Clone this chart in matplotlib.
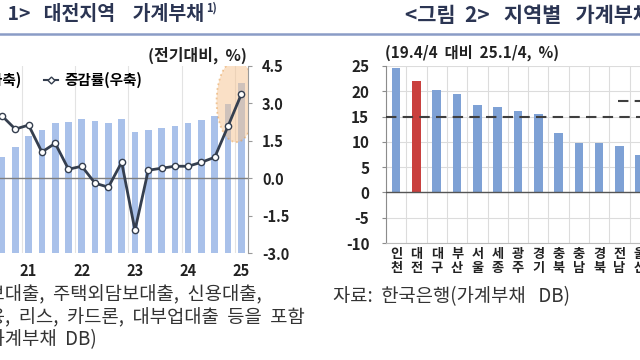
import numpy as np
import matplotlib.pyplot as plt
from matplotlib.patches import Ellipse, Patch
from matplotlib.lines import Line2D

plt.rcParams['font.family'] = ['Noto Sans CJK KR', 'DejaVu Sans']

# left chart: Daejeon household debt (20.3Q ~ 25.1Q)
quarters = ['20.3', '20.4', '21.1', '21.2', '21.3', '21.4', '22.1', '22.2', '22.3', '22.4',
            '23.1', '23.2', '23.3', '23.4', '24.1', '24.2', '24.3', '24.4', '25.1']
debt = [40.3, 41.3, 42.5, 43.2, 43.9, 44.0, 44.3, 44.1, 43.9, 44.3,
        42.9, 43.2, 43.4, 43.6, 43.9, 44.2, 44.7, 45.9, 48.2]
rate = [2.5, 1.97, 2.13, 1.05, 1.4, 0.36, 0.48, -0.2, -0.36, 0.64,
        -2.09, 0.32, 0.4, 0.48, 0.48, 0.64, 0.84, 2.09, 3.37]
year_labels = ['21', '22', '23', '24', '25']

# right chart: growth by region (19.4/4 -> 25.1/4)
regions = ['인천', '대전', '대구', '부산', '서울', '세종', '광주', '경기',
           '충북', '충남', '경북', '전남', '울산']
growth = [24.6, 22.0, 20.3, 19.4, 17.3, 16.9, 16.1, 15.6, 11.8, 9.8, 9.7, 9.1, 7.5]
national = 15.0

W, H = 640, 360
fig = plt.figure(figsize=(6.4, 3.6), dpi=100)

# titles
navy = '#2B3553'
fig.text(204 / W, 1 - 15 / H, '<그림      1>   대전지역    가계부채', ha='right', va='center',
         fontsize=14, fontweight='bold', color=navy)
fig.text(206 / W, 1 - 8 / H, '1)', ha='left', va='center', fontsize=8,
         fontweight='bold', color=navy)
fig.text(405 / W, 1 - 15 / H, '<그림  2>   지역별   가계부채', ha='left', va='center',
         fontsize=15, fontweight='bold', color=navy)
fig.add_artist(Line2D([0, 1], [1 - 34 / H] * 2, color='#8A9CC6', lw=1.8))

# ---- left chart
x = np.arange(len(quarters))
ax = fig.add_axes([0, 1 - 253 / H, 248 / W, 187 / H])
ax.bar(x, debt, width=0.5, color='#A9C1EA', zorder=2)
ax.set_ylim(30, 50)
ax.set_xlim(-0.15, 18.5)
ax.set_yticks([])
for s in ax.spines.values():
    s.set_visible(False)
q1 = [i for i, q in enumerate(quarters) if q.endswith('.1')]
ax.set_xticks(q1)
ax.set_xticklabels(year_labels, fontsize=10.5, fontweight='bold', color='#222222')
ax.tick_params(axis='x', length=0, pad=7)
ax.set_xticks(np.array(q1) - 0.5, minor=True)
ax.tick_params(axis='x', which='minor', length=0)
ax.grid(axis='x', which='minor', color='#E3E3E3', lw=0.8, zorder=0)

ax2 = ax.twinx()
ax2.set_ylim(-3, 4.5)
ax2.axhline(0, color='#7F7F7F', lw=1, zorder=1)
ax2.add_patch(Ellipse((17.6, 3.09), 2.93, 3.29, facecolor='#F6C38E', alpha=0.5,
                      edgecolor='#E39A4A', linestyle=':', lw=1.3, zorder=2))
ax2.plot(x, rate, color='#353F4F', lw=2, marker='o', ms=4.5, mfc='white',
         mec='#353F4F', mew=1, zorder=3)
ax2.set_yticks(np.arange(-3, 4.6, 1.5))
ax2.set_yticklabels([f'{v:.1f}' for v in np.arange(-3, 4.6, 1.5)],
                    fontsize=10.5, fontweight='bold', color='#222222')
ax2.tick_params(axis='y', direction='out', length=3, pad=7, color='#9A9A9A')
for k in ['left', 'top', 'bottom']:
    ax2.spines[k].set_visible(False)
ax2.spines['right'].set_color('#9A9A9A')
ax2.spines['right'].set_linewidth(0.8)

fig.text(247 / W, 1 - 55 / H, '(전기대비,  %)', ha='right', va='center',
         fontsize=11.5, fontweight='bold', color='#222222')
handles = [Patch(color='#A9C1EA'),
           Line2D([], [], color='#353F4F', lw=1.5, marker='D', ms=3.5, mfc='white',
                  mec='#353F4F')]
fig.legend(handles, ['가계부채(좌축)', '증감률(우축)'], loc='center right',
           bbox_to_anchor=(142 / W, 1 - 80 / H), bbox_transform=fig.transFigure,
           ncol=2, frameon=False, prop={'size': 10.5, 'weight': 'bold'},
           handlelength=1.0, handletextpad=0.4, columnspacing=1.5,
           borderpad=0, borderaxespad=0)

note_kw = dict(fontsize=13.5, color='#333333', va='center')
fig.text(262 / W, 1 - 295 / H, '주: 1) 주택담보대출,  주택외담보대출,  신용대출,', ha='right', **note_kw)
fig.text(305 / W, 1 - 318 / H, '할부금융,  리스,  카드론,  대부업대출  등을  포함', ha='right', **note_kw)
fig.text(97 / W, 1 - 340 / H, '자료:  한국은행(가계부채  DB)', ha='right', **note_kw)

# ---- right chart
xr = np.arange(len(regions))
ax3 = fig.add_axes([386 / W, 1 - 243 / H, (680 - 386) / W, 177 / H])
ax3.set_xlim(-0.5, -0.5 + 294 / 20.3)
ax3.set_ylim(-10, 25)
colors = ['#C9403E' if r == '대전' else '#7EA1D5' for r in regions]
ax3.bar(xr, growth, width=0.42, color=colors, zorder=2)
ax3.axhline(0, color='#555555', lw=1, zorder=3)
ax3.axhline(national, color='#3F3F3F', lw=1.5, dashes=(5, 3), zorder=4)
ax3.set_yticks(np.arange(-10, 26, 5))
ax3.set_yticklabels([str(v) for v in np.arange(-10, 26, 5)], fontsize=11,
                    fontweight='bold', color='#222222')
ax3.tick_params(axis='y', direction='out', length=3, pad=9, color='#8C8C8C')
ax3.set_xticks(xr)
ax3.set_xticklabels(['\n'.join(r) for r in regions], fontsize=9.5,
                    fontweight='bold', color='#222222', linespacing=0.95)
ax3.tick_params(axis='x', length=0, pad=3)
ax3.set_xticks(np.arange(-0.5, 14, 1), minor=True)
ax3.tick_params(axis='x', which='minor', length=0)
ax3.grid(axis='x', which='minor', color='#DCDCDC', lw=0.8, zorder=0)
ax3.grid(axis='y', which='major', color='#DCDCDC', lw=0.8, zorder=0)
for k in ['top', 'right']:
    ax3.spines[k].set_visible(False)
ax3.spines['left'].set_color('#8C8C8C')
ax3.spines['bottom'].set_color('#BBBBBB')

fig.text(385 / W, 1 - 53 / H, '(19.4/4  대비  25.1/4,  %)', ha='left', va='center',
         fontsize=11, fontweight='bold', color='#222222')
fig.legend([Line2D([], [], color='#3F3F3F', lw=1.5, dashes=(5, 3))], ['전국'],
           loc='center left', bbox_to_anchor=(618 / W, 1 - 102 / H),
           bbox_transform=fig.transFigure, frameon=False, fontsize=10,
           handlelength=1.6, borderpad=0, borderaxespad=0)
fig.text(333 / W, 1 - 297 / H, '자료:  한국은행(가계부채   DB)', ha='left', **note_kw)

fig.savefig('out.png', dpi=100)
